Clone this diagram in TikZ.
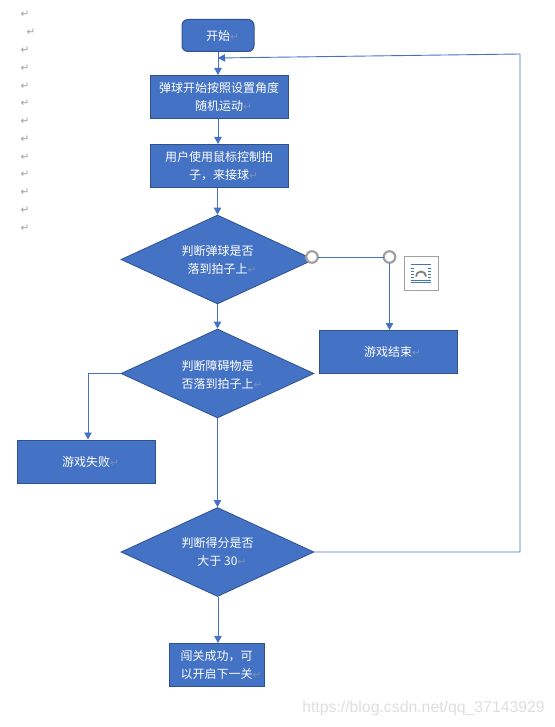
\documentclass[tikz,border=0pt]{standalone}
\usepackage{fontspec}
\setmainfont{Noto Sans CJK SC}
\newfontfamily\djv{DejaVu Sans}
\newfontfamily\wmfont{Liberation Sans}
\usetikzlibrary{shapes.geometric,arrows.meta}
\definecolor{fillb}{HTML}{4472C4}
\definecolor{edgeb}{HTML}{2F528F}
\definecolor{markb}{HTML}{8090B0}
\definecolor{markg}{HTML}{A0A0A0}
\definecolor{iconb}{HTML}{3F78B5}
\newcommand{\retm}{\rlap{\djv\fontsize{10.5}{10.5}\selectfont\color{markb}↵}}
\newcommand{\dropline}{\rule{0pt}{13.5pt}}
\tikzset{
  x=1pt,y=-1pt,
  flowtext/.style={text=white,font=\fontsize{12}{18}\selectfont,align=center,inner sep=0pt},
  procbox/.style={flowtext,draw=edgeb,line width=1pt,fill=fillb,minimum width=#1,minimum height=43pt},
  startbox/.style={flowtext,draw=edgeb,line width=1pt,fill=fillb,rounded corners=6pt,minimum width=72pt,minimum height=32pt},
  decbox/.style={flowtext,diamond,draw=edgeb,line width=.8pt,fill=fillb,minimum width=193pt,minimum height=89pt,shape aspect=2.17},
  flow/.style={draw=fillb,line width=.9pt,-{Triangle[length=7pt,width=7.5pt]}},
  plainflow/.style={draw=fillb,line width=.9pt},
  handle/.style={circle,draw=markg,line width=2.2pt,fill=white,minimum size=11.5pt,inner sep=0pt,outer sep=0pt},
  pmark/.style={text=markg,font=\djv\fontsize{10.5}{10.5}\selectfont,inner sep=0pt},
}
\begin{document}
\begin{tikzpicture}
\useasboundingbox (0,0) rectangle (554,727);
% left paragraph marks
\foreach \n/\px/\py in {a/25/14,b/31/32,c/25/50,d/25/68,e/25/86,f/25/103,g/25/121,h/25/139,i/25/157,j/25/174,k/25/192,l/25/210,m/25/228}
  \node[pmark] (pm\n) at (\px,\py) {↵};
% nodes
\node[startbox] (start) at (218,35.5) {开始\retm};
\node[procbox=138pt] (move) at (219,97) {弹球开始按照设置角度\\随机运动\retm};
\node[procbox=138pt] (ctrl) at (219,166) {用户使用鼠标控制拍\\子，来接球\retm};
\node[decbox] (dball) at (217.5,259.5) {判断弹球是否\\落到拍子上\retm};
\node[decbox] (dobst) at (217.5,373.5) {\dropline 判断障碍物是\\否落到拍子上\retm};
\node[decbox] (dscore) at (217.5,552) {判断得分是否\\大于 30\retm};
\node[procbox=138pt] (over) at (388,352) {游戏结束\retm};
\node[procbox=138pt] (fail) at (86,461.5) {游戏失败\retm};
\node[procbox=95pt] (win) at (216.5,665) {闯关成功，可\\以开启下一关\retm};
\node[handle] (h1) at (312,257) {};
\node[handle] (h2) at (389.5,257) {};
% connectors
\coordinate (joinS) at (218,58);
\coordinate (c1) at (520,552);
\coordinate (c2) at (520,54);
\coordinate (c3) at (88,373.5);
\draw[flow] (start.south -| joinS) -- (move.north -| joinS);
\draw[flow] (move.south -| joinS) -- (ctrl.north -| joinS);
\draw[flow] (ctrl.south -| dball.north) -- (dball.north);
\draw[flow] (dball.south) -- (dobst.north);
\draw[flow] (dobst.south) -- (dscore.north);
\draw[flow] (dscore.south -| joinS) -- (win.north -| joinS);
\draw[plainflow] (h1) -- (h2);
\draw[flow] (h2) -- (over.north -| h2);
\draw[flow] (dobst.west) -- (c3) -- (fail.north -| c3);
\draw[flow] (dscore.east) -- (c1) -- (c2) -- (joinS);
% layout icon
\draw[draw=markg,fill=white,line width=.8pt] (404.5,256.5) rectangle (438.5,290.5);
\foreach \yy in {264,280,282.5}{\draw[iconb,line width=.8pt] (411,\yy) -- (431,\yy);}
\foreach \yy in {268,271,274,277}{\draw[iconb,line width=.8pt] (411,\yy) -- (414,\yy) (428,\yy) -- (431,\yy);}
\draw[black!50,line width=1.8pt] (416,276.5) arc[start angle=180,end angle=360,radius=5];
% watermark
\node[inner sep=0pt,text=black!13,font=\wmfont\fontsize{15.8}{16}\selectfont] (wm) at (423.5,708.5) {https://blog.csdn.net/qq\_37143929};
\end{tikzpicture}
\end{document}
